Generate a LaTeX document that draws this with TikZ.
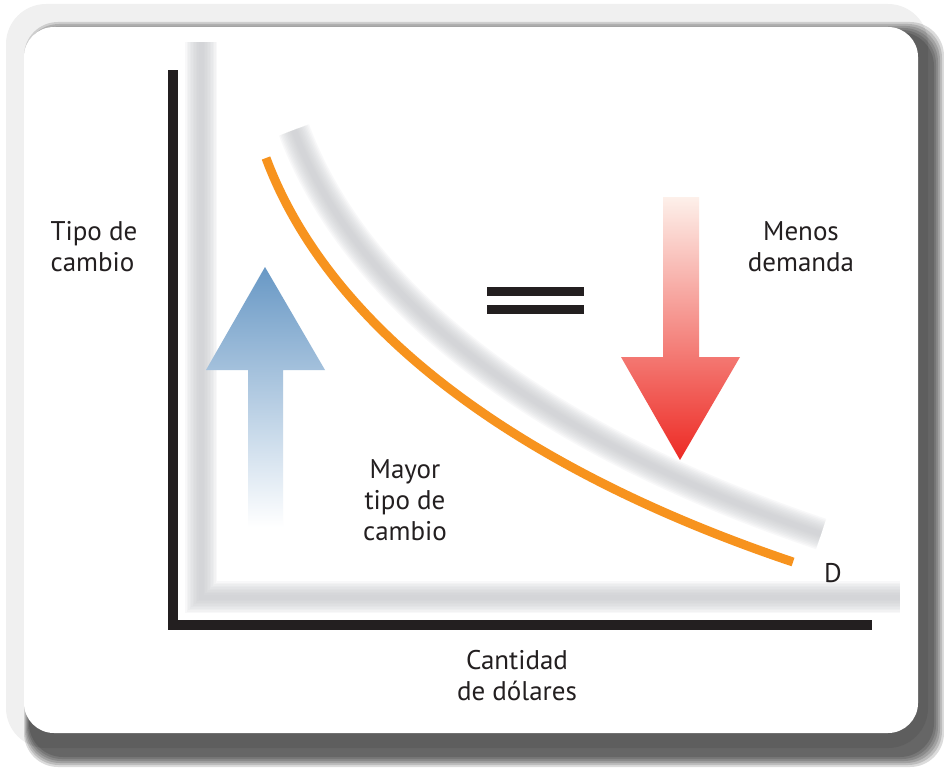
\documentclass[tikz,border=0pt]{standalone}
\usepackage{fontspec}
\setmainfont{PT Sans}
\usetikzlibrary{positioning}
\definecolor{inkblack}{RGB}{35,31,32}
\definecolor{curveorange}{RGB}{247,147,30}
\definecolor{upblue}{RGB}{104,152,197}
\definecolor{upmid}{RGB}{165,188,220}
\definecolor{downpink}{RGB}{253,240,234}
\definecolor{downmid}{RGB}{243,152,122}
\definecolor{downred}{RGB}{237,42,36}
\definecolor{ghostgrey}{RGB}{196,199,202}
\tikzset{
  lbl/.style={text=inkblack, align=center, inner sep=0pt},
  ghost/.style={line width=#1, ghostgrey, opacity=0.11},
}
\begin{document}
\begin{tikzpicture}[x=1pt, y=-1pt, font=\fontsize{27}{31}\selectfont]
\useasboundingbox (0,0) rectangle (944,768);

\fill[black!6, rounded corners=40pt] (6,4) rectangle (928,748);
\foreach \i in {0,...,5}
  \fill[black, opacity=0.14, rounded corners=34pt] (24+\i,22+2*\i) rectangle (944-2*\i,767-2*\i);
\fill[white, rounded corners=30pt] (24,27) rectangle (918,733);

\coordinate (ytop) at (173,70);
\coordinate (corner) at (173,625);
\coordinate (xend) at (872,625);
\coordinate (curvestart) at (266,158);
\coordinate (curveend) at (793,562);

\foreach \w in {32,29,...,5}
  \draw[ghost=\w pt] ([shift={(28,-28)}]ytop) -- ([shift={(28,-28)}]corner) -- ([shift={(28,-28)}]xend);
\foreach \w in {32,29,...,5}
  \draw[ghost=\w pt] ([shift={(28,-28)}]curvestart) .. controls ([shift={(28,-28)}]330,330) and ([shift={(28,-28)}]520,470) .. ([shift={(28,-28)}]curveend);

\draw[inkblack, line width=10pt, line join=miter] (ytop) -- (corner) -- (xend);

\draw[curveorange, line width=9pt] (curvestart) .. controls (330,330) and (520,470) .. (curveend);

\shade[top color=upblue, middle color=upmid, bottom color=white]
  (265,267) -- (325,370) -- (283,370) -- (283,527) -- (248,527) -- (248,370) -- (206,370) -- cycle;
\shade[top color=downpink, middle color=downmid, bottom color=downred]
  (663,197) -- (699,197) -- (699,357) -- (740,357) -- (680,460) -- (621,357) -- (663,357) -- cycle;

\fill[inkblack] (487,287) rectangle (584,296);
\fill[inkblack] (487,305) rectangle (584,314);

\node[lbl, align=left] (ylabel) at (94,247) {Tipo de\\cambio};
\node[lbl] (menos) at (801,247) {Menos\\demanda};
\node[lbl] (mayor) at (405,500) {Mayor\\tipo de\\cambio};
\node[lbl] (xlabel) at (517,676) {Cantidad\\de dólares};
\node[lbl] (dlabel) at (833,573) {D};

\end{tikzpicture}
\end{document}
